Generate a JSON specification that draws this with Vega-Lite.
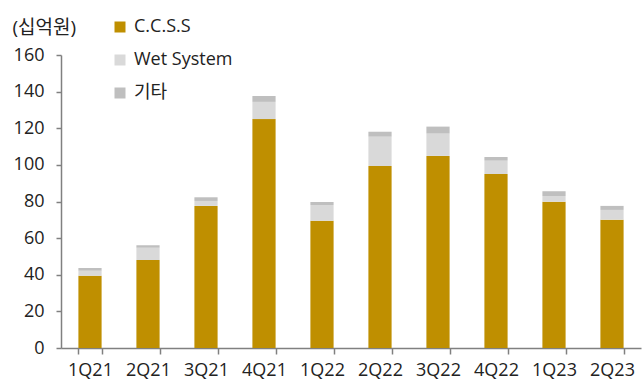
{
  "$schema": "https://vega.github.io/schema/vega-lite/v6.json",
  "width": 580,
  "height": 293,
  "autosize": "none",
  "padding": {"left": 61, "top": 55, "right": 2, "bottom": 37},
  "background": "white",
  "config": {
    "font": "Open Sans, Noto Sans CJK KR",
    "view": {"stroke": null},
    "axis": {"grid": false, "domainColor": "#808080", "tickColor": "#808080", "labelColor": "#222222", "labelFontSize": 18, "domainWidth": 1.5, "tickWidth": 1.5}
  },
  "data": {
    "values": [
      {"q": "1Q21", "type": "C.C.S.S", "v": 39.5, "o": 1},
      {"q": "1Q21", "type": "Wet System", "v": 2.7, "o": 2},
      {"q": "1Q21", "type": "기타", "v": 1.5, "o": 3},
      {"q": "2Q21", "type": "C.C.S.S", "v": 48.1, "o": 1},
      {"q": "2Q21", "type": "Wet System", "v": 6.7, "o": 2},
      {"q": "2Q21", "type": "기타", "v": 1.3, "o": 3},
      {"q": "3Q21", "type": "C.C.S.S", "v": 77.6, "o": 1},
      {"q": "3Q21", "type": "Wet System", "v": 2.7, "o": 2},
      {"q": "3Q21", "type": "기타", "v": 2.0, "o": 3},
      {"q": "4Q21", "type": "C.C.S.S", "v": 125.0, "o": 1},
      {"q": "4Q21", "type": "Wet System", "v": 9.4, "o": 2},
      {"q": "4Q21", "type": "기타", "v": 3.2, "o": 3},
      {"q": "1Q22", "type": "C.C.S.S", "v": 69.5, "o": 1},
      {"q": "1Q22", "type": "Wet System", "v": 8.6, "o": 2},
      {"q": "1Q22", "type": "기타", "v": 1.6, "o": 3},
      {"q": "2Q22", "type": "C.C.S.S", "v": 99.4, "o": 1},
      {"q": "2Q22", "type": "Wet System", "v": 16.0, "o": 2},
      {"q": "2Q22", "type": "기타", "v": 2.7, "o": 3},
      {"q": "3Q22", "type": "C.C.S.S", "v": 104.9, "o": 1},
      {"q": "3Q22", "type": "Wet System", "v": 12.2, "o": 2},
      {"q": "3Q22", "type": "기타", "v": 3.8, "o": 3},
      {"q": "4Q22", "type": "C.C.S.S", "v": 95.0, "o": 1},
      {"q": "4Q22", "type": "Wet System", "v": 7.3, "o": 2},
      {"q": "4Q22", "type": "기타", "v": 2.0, "o": 3},
      {"q": "1Q23", "type": "C.C.S.S", "v": 79.9, "o": 1},
      {"q": "1Q23", "type": "Wet System", "v": 3.1, "o": 2},
      {"q": "1Q23", "type": "기타", "v": 2.6, "o": 3},
      {"q": "2Q23", "type": "C.C.S.S", "v": 70.1, "o": 1},
      {"q": "2Q23", "type": "Wet System", "v": 5.3, "o": 2},
      {"q": "2Q23", "type": "기타", "v": 2.2, "o": 3}
    ]
  },
  "mark": {"type": "bar"},
  "encoding": {
    "x": {
      "field": "q", "type": "nominal", "sort": null,
      "scale": {"paddingInner": 0.6, "paddingOuter": 0.3},
      "axis": {"title": null, "labelAngle": 0, "tickBand": "extent", "tickSize": 6, "labelPadding": 7}
    },
    "y": {
      "field": "v", "type": "quantitative", "stack": "zero",
      "scale": {"domain": [0, 160], "nice": false},
      "axis": {
        "values": [0, 20, 40, 60, 80, 100, 120, 140, 160],
        "tickSize": 5, "labelPadding": 12,
        "title": "(십억원)", "titleAngle": 0, "titleX": -49, "titleY": -28,
        "titleAlign": "left", "titleBaseline": "middle", "titleFontSize": 19, "titleFontWeight": "normal", "titleColor": "#222222"
      }
    },
    "color": {
      "field": "type", "type": "nominal",
      "scale": {"domain": ["C.C.S.S", "Wet System", "기타"], "range": ["#BF8F00", "#D9D9D9", "#BFBFBF"]},
      "legend": {
        "title": null, "orient": "none", "legendX": 50, "legendY": -37,
        "symbolType": "square", "symbolSize": 121, "symbolStrokeWidth": 0,
        "labelFontSize": 18, "labelColor": "#222222", "rowPadding": 15, "labelOffset": 5
      }
    },
    "order": {"field": "o", "type": "quantitative"}
  }
}
